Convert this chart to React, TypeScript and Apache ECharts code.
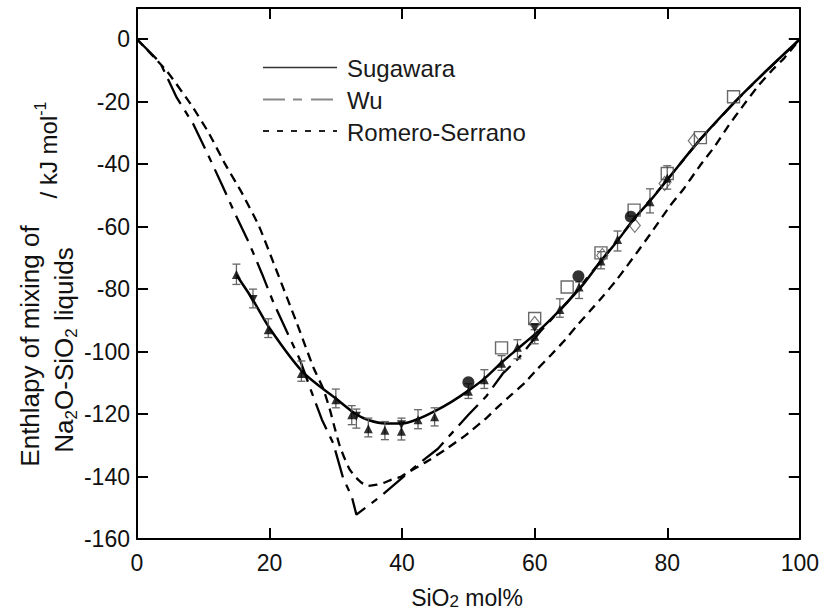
import React, { useEffect, useRef } from "react";
import * as echarts from "echarts";

const FONT = '"Liberation Sans", Arial, Helvetica, sans-serif';

// Model curves: [SiO2 mol%, enthalpy kJ/mol]
const sugawaraCurve = [
  [15, -75.5], [17.5, -83.5], [20, -92.5], [25, -106.5], [30, -115], [33, -120],
  [35, -122], [37.5, -123], [40, -123], [42.5, -121.5], [45, -119], [47.5, -116],
  [50, -112.5], [52.5, -108.5], [55, -103.5], [57.5, -99], [60, -94.5], [62.5, -89.5],
  [65, -84], [67.5, -78], [70, -71], [72.5, -64.5], [75, -57.5], [77.5, -51.5],
  [80, -45], [85, -32], [90, -20.5], [95, -10], [100, 0],
];
const wuCurve = [
  [0, 0], [3.5, -7.5], [6, -18.7], [8.5, -27.2], [10.8, -37.4], [12.8, -46.5],
  [14.8, -55.9], [16.9, -65.2], [18.9, -75.3], [20.6, -84.4], [22.6, -93.6],
  [24.6, -102.7], [26.3, -112.7], [27.9, -121.8], [29.6, -129.3], [31.1, -140.5],
  [32.4, -146.4], [33.1, -152.2], [36.7, -146.4], [39.7, -141], [41.7, -137.3],
  [45.4, -131.1], [50, -120.2], [52.7, -114.3], [55.2, -107], [57.5, -102.3],
  [61, -93.2], [65, -84], [70, -71], [75, -57.5], [80, -45], [85, -32], [90, -20.5],
  [95, -10], [100, 0],
];
const romeroCurve = [
  [0, 0], [4.5, -10.2], [8.3, -21.4], [10.8, -29.9], [13.3, -40], [15.8, -49.1],
  [18.4, -59.8], [20.6, -71.6], [24.1, -90.8], [26.6, -105], [28.1, -111.9],
  [29.1, -118.6], [29.9, -125], [30.6, -130.3], [31.4, -134.6], [32.1, -137.8],
  [32.9, -140], [33.9, -142], [34.9, -143], [36.2, -142.6], [37.4, -141.9],
  [38.4, -141], [39.7, -140.2], [40.7, -138.9], [44.2, -134.6], [46.7, -131.1],
  [49.7, -126.6], [52.7, -121.3], [54.3, -118], [56.5, -113.8], [58.5, -110],
  [60.3, -105.8], [62.5, -101], [64.6, -96.2], [66.3, -91.9], [68.3, -87.1],
  [70.3, -82.3], [72.3, -77.2], [73.9, -72.7], [75.6, -67.8], [77.4, -62.5],
  [80.4, -53.4], [82.4, -48.1], [84.9, -40.6], [87.2, -34.2], [89.2, -27.8],
  [91.4, -21.4], [93.7, -15], [95.7, -10.2], [97.7, -5.9], [100, 0],
];

// Experimental points
const triUpPoints = [
  [15, -75.3], [19.8, -93], [24.8, -107], [30, -115.4], [32.4, -120.2], [34.9, -124.7],
  [37.4, -125.2], [39.9, -125.5], [42.4, -121.8], [44.9, -120.9], [50, -112.7],
  [52.4, -109], [55, -103.7], [57.4, -98.6], [60, -95.1], [63.8, -86.5], [66.7, -79.3],
  [70, -71], [72.5, -64.1], [77.4, -52], [80, -44.4],
];
const triDownPoints = [[17.5, -83.3], [33.1, -120.7], [39.9, -123.4], [60, -92.3]];
const circlePoints = [[50, -109.8], [66.6, -75.9], [74.5, -56.8]];
const squarePoints = [
  [55, -98.8], [60, -89.4], [64.9, -79.3], [70, -68.4], [75, -54.7], [80, -43],
  [85, -31.5], [90, -18.4],
];
const diamondPoints = [[60, -91], [70.2, -69.2], [75.1, -59.6], [79.6, -46.2], [84, -32.5]];
// Error bars: [x, upper, lower]
const errorBars = [
  [15, -72, -78.5], [17.5, -80, -86], [19.8, -89.5, -95.5], [24.8, -103, -109.5],
  [30, -112, -118], [32.4, -117.3, -123.4], [33.1, -118.4, -124.5], [34.9, -121.3, -127.3],
  [37.4, -122.4, -128.2], [39.9, -121.3, -128.3], [42.4, -118.6, -124.7],
  [44.9, -118, -123.8], [50, -110.3, -115], [52.4, -105.8, -111.8], [55, -101.3, -106],
  [57.4, -96.2, -102.3], [60, -93, -97.5], [63.8, -83.1, -89], [66.7, -77.7, -83],
  [70, -68, -73.5], [72.5, -61.4, -67.8], [77.4, -47.9, -55.6], [80, -40.5, -48],
];

const legendNames = ["Sugawara", "Wu", "Romero-Serrano"];

export default function App() {
  const ref = useRef<HTMLDivElement>(null);
  useEffect(() => {
    if (!ref.current) return;
    const chart = echarts.init(ref.current, undefined, { renderer: "svg" });
    const axisLineStyle = { color: "#000", width: 2 };
    const tick = { inside: true, length: 11, lineStyle: { color: "#000", width: 2 } };
    const xBase = {
      type: "value", min: 0, max: 100, interval: 20,
      axisLine: { show: true, onZero: false, lineStyle: axisLineStyle },
      axisTick: tick, splitLine: { show: false },
    };
    const yBase = {
      type: "value", min: -160, max: 10, interval: 20,
      axisLine: { show: true, onZero: false, lineStyle: axisLineStyle },
      axisTick: tick, splitLine: { show: false },
    };
    const errStyle = { stroke: "#666", lineWidth: 1.3 };

    // manual legend (line samples + names)
    const legendLineStyles = [
      { stroke: "#333", lineWidth: 1.6 },
      { stroke: "#888", lineWidth: 2, lineDash: [22, 8, 9, 9] },
      { stroke: "#222", lineWidth: 2, lineDash: [6, 8] },
    ];
    const legendY = [67.5, 99.5, 131];
    const legendItems: any[] = [];
    legendNames.forEach((name, i) => {
      legendItems.push({
        type: "line", shape: { x1: 263, y1: legendY[i], x2: 337, y2: legendY[i] },
        style: legendLineStyles[i],
      });
      legendItems.push({
        type: "text", x: 347, y: legendY[i] + 1,
        style: { text: name, fontSize: 24, fontFamily: FONT, fill: "#1a1a1a",
          align: "left", verticalAlign: "middle" },
      });
    });

    chart.setOption({
      animation: false,
      backgroundColor: "#fff",
      grid: { left: 137, right: 22, top: 8, bottom: 71, containLabel: false },
      xAxis: [
        { ...xBase, position: "bottom",
          axisLabel: { fontSize: 23, color: "#111", margin: 12, fontFamily: FONT } },
        { ...xBase, position: "top", axisLabel: { show: false } },
      ],
      yAxis: [
        { ...yBase, position: "left",
          axisLabel: { fontSize: 23, color: "#111", margin: 7, fontFamily: FONT,
            formatter: (v: number) => (v > 0 ? "" : String(v)) } },
        { ...yBase, position: "right", axisLabel: { show: false } },
      ],
      graphic: [
        ...legendItems,
        { type: "text", x: 467, y: 598,
          style: { text: "SiO{s|2} mol%", fontSize: 23, fontFamily: FONT, fill: "#111",
            align: "center", verticalAlign: "middle",
            rich: { s: { fontSize: 17, fontFamily: FONT, fill: "#111", verticalAlign: "bottom" } } } },
        { type: "text", x: 30, y: 346, rotation: Math.PI / 2,
          style: { text: "Enthlapy of mixing of", fontSize: 26, fontFamily: FONT, fill: "#111",
            align: "center", verticalAlign: "middle" } },
        { type: "text", x: 64, y: 350, rotation: Math.PI / 2,
          style: { text: "Na{sub|2}O-SiO{sub|2} liquids", fontSize: 26, fontFamily: FONT, fill: "#111",
            align: "center", verticalAlign: "middle", lineHeight: 32,
            rich: { sub: { fontSize: 17, fontFamily: FONT, fill: "#111", verticalAlign: "bottom", lineHeight: 18 } } } },
        { type: "text", x: 48, y: 150, rotation: Math.PI / 2,
          style: { text: "/ kJ mol{sup|-1}", fontSize: 24, fontFamily: FONT, fill: "#111",
            align: "center", verticalAlign: "middle", lineHeight: 32,
            rich: { sup: { fontSize: 16, fontFamily: FONT, fill: "#111", verticalAlign: "top", lineHeight: 17 } } } },
      ],
      series: [
        { name: "Romero-Serrano", type: "line", data: romeroCurve, symbol: "none", smooth: 0.15,
          lineStyle: { color: "#000", width: 2.3, type: [9, 6] }, z: 3 },
        { name: "Wu", type: "line", data: wuCurve, symbol: "none",
          lineStyle: { color: "#000", width: 2.3, type: [28, 8, 7, 8] }, z: 3 },
        { name: "Sugawara", type: "line", data: sugawaraCurve, symbol: "none", smooth: 0.3,
          lineStyle: { color: "#000", width: 2.5 }, z: 4 },
        { name: "err", type: "custom", data: errorBars, z: 5,
          encode: { x: 0, y: [1, 2] },
          renderItem: (params: any, api: any) => {
            const x = api.value(0);
            const a = api.coord([x, api.value(1)]);
            const b = api.coord([x, api.value(2)]);
            const w = 4;
            return {
              type: "group",
              children: [
                { type: "line", shape: { x1: a[0], y1: a[1], x2: b[0], y2: b[1] }, style: errStyle },
                { type: "line", shape: { x1: a[0] - w, y1: a[1], x2: a[0] + w, y2: a[1] }, style: errStyle },
                { type: "line", shape: { x1: b[0] - w, y1: b[1], x2: b[0] + w, y2: b[1] }, style: errStyle },
              ],
            };
          } },
        { name: "sq", type: "scatter", data: squarePoints, symbol: "rect", symbolSize: 12, z: 6,
          itemStyle: { color: "rgba(0,0,0,0)", borderColor: "#444", borderWidth: 1.4 } },
        { name: "dm", type: "scatter", data: diamondPoints, symbol: "diamond", symbolSize: [11, 14], z: 6,
          itemStyle: { color: "rgba(0,0,0,0)", borderColor: "#555", borderWidth: 1.2 } },
        { name: "up", type: "scatter", data: triUpPoints, symbol: "triangle", symbolSize: 9, z: 7,
          itemStyle: { color: "#000" } },
        { name: "down", type: "scatter", data: triDownPoints, symbol: "triangle", symbolRotate: 180,
          symbolSize: 9, z: 7, itemStyle: { color: "#000" } },
        { name: "circ", type: "scatter", data: circlePoints, symbol: "circle", symbolSize: 12, z: 7,
          itemStyle: { color: "#000" } },
      ],
    });
    return () => chart.dispose();
  }, []);
  return (
    <div ref={ref} style={{ position: "absolute", left: 0, top: 0, width: 822, height: 610 }} />
  );
}
